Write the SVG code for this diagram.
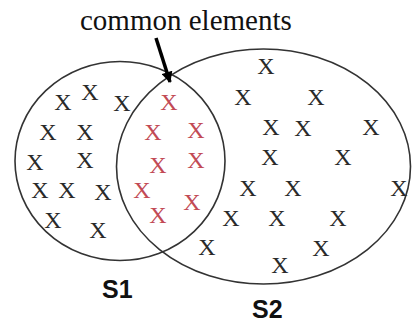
<svg xmlns="http://www.w3.org/2000/svg" width="412" height="322" viewBox="0 0 412 322">
<style>
.set{fill:none;stroke:#333;stroke-width:1.6}
.x{font-family:"Liberation Serif","Times New Roman",serif;font-size:24px;fill:#2a2a2a;text-anchor:middle}
.r{fill:#c24a55}
.lbl{font-family:"Liberation Sans",Arial,sans-serif;font-weight:bold;font-size:25px;fill:#111}
.title{font-family:"Liberation Serif","Times New Roman",serif;font-size:29px;fill:#111}
</style>
<defs>
<marker id="ah" viewBox="0 0 10 10" refX="9" refY="5" markerWidth="3.4" markerHeight="3.2" orient="auto" markerUnits="strokeWidth">
<path d="M0,0 L10,5 L0,10 z" fill="#000"/>
</marker>
</defs>
<rect width="412" height="322" fill="#fff"/>
<g id="S1">
<ellipse class="set" cx="120" cy="161" rx="105" ry="99.5"/>
<text class="lbl" x="102" y="298">S1</text>
</g>
<g id="S2">
<ellipse class="set" cx="263.5" cy="166.5" rx="147" ry="117.5"/>
<text class="lbl" x="252" y="318">S2</text>
</g>
<g id="S1-only">
<text class="x" x="63" y="110">X</text>
<text class="x" x="90" y="100">X</text>
<text class="x" x="122" y="111">X</text>
<text class="x" x="48" y="140">X</text>
<text class="x" x="85" y="140">X</text>
<text class="x" x="35" y="170">X</text>
<text class="x" x="85" y="168">X</text>
<text class="x" x="40" y="198">X</text>
<text class="x" x="67" y="198">X</text>
<text class="x" x="103" y="200">X</text>
<text class="x" x="53" y="228">X</text>
<text class="x" x="98" y="238">X</text>
</g>
<g id="common">
<text class="x r" x="169" y="110">X</text>
<text class="x r" x="153" y="140">X</text>
<text class="x r" x="196" y="138">X</text>
<text class="x r" x="158" y="173">X</text>
<text class="x r" x="196" y="168">X</text>
<text class="x r" x="142" y="198">X</text>
<text class="x r" x="192" y="210">X</text>
<text class="x r" x="158" y="223">X</text>
</g>
<g id="S2-only">
<text class="x" x="266" y="74">X</text>
<text class="x" x="243" y="105">X</text>
<text class="x" x="316" y="105">X</text>
<text class="x" x="271" y="135">X</text>
<text class="x" x="303" y="136">X</text>
<text class="x" x="371" y="135">X</text>
<text class="x" x="270" y="165">X</text>
<text class="x" x="343" y="165">X</text>
<text class="x" x="248" y="196">X</text>
<text class="x" x="293" y="196">X</text>
<text class="x" x="399" y="196">X</text>
<text class="x" x="231" y="226">X</text>
<text class="x" x="277" y="226">X</text>
<text class="x" x="338" y="226">X</text>
<text class="x" x="207" y="255">X</text>
<text class="x" x="321" y="256">X</text>
<text class="x" x="280" y="273">X</text>
</g>
<g id="label">
<text class="title" x="80" y="30">common elements</text>
</g>
<g id="connectors">
<line x1="156" y1="38" x2="170" y2="82" stroke="#000" stroke-width="3.5" marker-end="url(#ah)"/>
</g>
</svg>
